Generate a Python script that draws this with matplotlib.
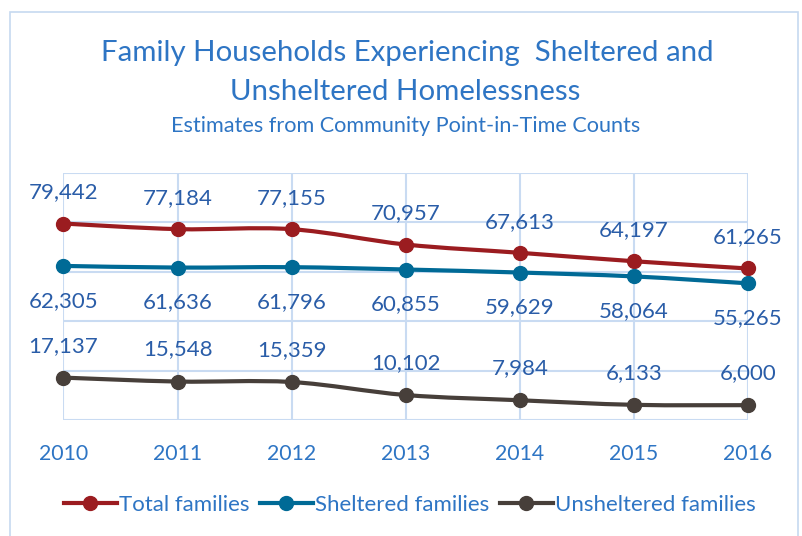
import numpy as np
import matplotlib
matplotlib.use("Agg")
import matplotlib.pyplot as plt
from matplotlib.path import Path
from matplotlib.patches import PathPatch, Rectangle
from matplotlib.lines import Line2D

years = ['2010', '2011', '2012', '2013', '2014', '2015', '2016']
total = [79442, 77184, 77155, 70957, 67613, 64197, 61265]
sheltered = [62305, 61636, 61796, 60855, 59629, 58064, 55265]
unsheltered = [17137, 15548, 15359, 10102, 7984, 6133, 6000]

plt.rcParams['font.family'] = ['Lato', 'DejaVu Sans']

red = '#9B1C20'
teal = '#006A96'
dark = '#473F3A'
lblue = '#2A5DA8'
tblue = '#2E75C4'
grid = '#C9DBF2'


def smooth_path(x, y):
    # catmull-rom style bezier, similar to excel "smoothed line"
    verts = [(x[0], y[0])]
    codes = [Path.MOVETO]
    n = len(x)
    for i in range(n - 1):
        x0, y0 = (x[i - 1], y[i - 1]) if i > 0 else (x[i], y[i])
        x3, y3 = (x[i + 2], y[i + 2]) if i + 2 < n else (x[i + 1], y[i + 1])
        c1 = (x[i] + (x[i + 1] - x0) / 6, y[i] + (y[i + 1] - y0) / 6)
        c2 = (x[i + 1] - (x3 - x[i]) / 6, y[i + 1] - (y3 - y[i]) / 6)
        verts += [c1, c2, (x[i + 1], y[i + 1])]
        codes += [Path.CURVE4] * 3
    return Path(verts, codes)


fig = plt.figure(figsize=(8.02, 5.36), dpi=100)
fig.patches.append(Rectangle((10 / 802, -0.01), 788 / 802, 1 - 12 / 536 + 0.01,
                             transform=fig.transFigure, fill=False,
                             edgecolor='#C6D9F0', linewidth=1.2))

ax = fig.add_axes([63.5 / 802, 1 - 420 / 536, (748 - 63.5) / 802, (420 - 172.7) / 536])
x = np.arange(len(years))
ax.set_xlim(0, 6)
ax.set_ylim(0, 100000)
ax.set_xticks(x)
ax.set_yticks(np.arange(0, 100001, 20000))
ax.grid(True, color=grid, linewidth=1.5)
ax.set_axisbelow(True)
for s in ax.spines.values():
    s.set_visible(False)
ax.set_xticklabels(years, color=tblue, fontsize=15.3)
ax.set_yticklabels([])
ax.tick_params(length=0, pad=17)

series = [(total, red, 'Total families', 31),
          (sheltered, teal, 'Sheltered families', -35),
          (unsheltered, dark, 'Unsheltered families', 32)]
handles = []
for vals, col, name, off in series:
    ax.add_patch(PathPatch(smooth_path(x, vals), facecolor='none', edgecolor=col,
                           linewidth=3, capstyle='round', clip_on=False, zorder=3))
    ax.plot(x, vals, 'o', color=col, markersize=10, clip_on=False, zorder=4)
    for xi, v in zip(x, vals):
        ax.annotate(f'{v:,}', (xi, v), xytext=(0, off), textcoords='offset pixels',
                    ha='center', va='center', fontsize=16, color=lblue)
    handles.append(Line2D([], [], color=col, linewidth=3, marker='o', markersize=10, label=name))

fig.legend(handles=handles, loc='center', bbox_to_anchor=(0.511, 1 - 505 / 536), ncol=3,
           frameon=False, fontsize=16, handlelength=2.4, handletextpad=0.1,
           columnspacing=0.45, labelcolor=tblue)

fig.text(0.508, 1 - 53 / 536, 'Family Households Experiencing  Sheltered and',
         ha='center', va='center', fontsize=21.2, color=tblue)
fig.text(0.505, 1 - 92 / 536, 'Unsheltered Homelessness',
         ha='center', va='center', fontsize=21.2, color=tblue)
fig.text(0.506, 1 - 126 / 536, 'Estimates from Community Point-in-Time Counts',
         ha='center', va='center', fontsize=15.6, color=tblue)

fig.savefig('out.png', dpi=100)
